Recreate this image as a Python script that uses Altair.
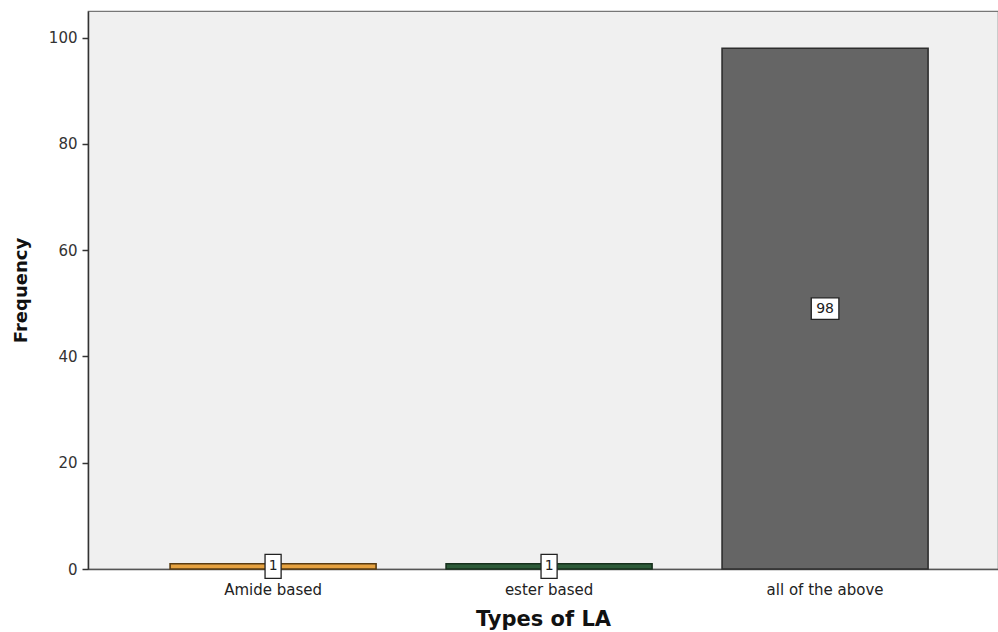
import altair as alt
import pandas as pd

# Frequency of each type of local anaesthetic
categories = ["Amide based", "ester based", "all of the above"]
counts = [1, 1, 98]
fills = ["#E6A240", "#2D5B39", "#656565"]
strokes = ["#5A3C12", "#17301D", "#2E2E2E"]

FONT = "DejaVu Sans"

df = pd.DataFrame({"type": categories, "count": counts})

x_enc = alt.X(
    "type:N",
    sort=categories,
    scale=alt.Scale(paddingInner=0.2536, paddingOuter=0.2754, align=0.54),
    axis=alt.Axis(
        title="Types of LA",
        labelAngle=0,
        ticks=False,
        domainColor="#555555",
        domainWidth=1.5,
        labelFont=FONT,
        labelFontSize=15,
        labelColor="#222222",
        labelPadding=13,
        titleFont=FONT,
        titleFontSize=21,
        titleFontWeight="bold",
        titleColor="#111111",
        titlePadding=11,
    ),
)

y_scale = alt.Scale(domain=[0, 105], nice=False, zero=True)

bars = alt.Chart(df).mark_bar(strokeWidth=1.6).encode(
    x=x_enc,
    y=alt.Y(
        "count:Q",
        scale=y_scale,
        axis=alt.Axis(
            title="Frequency",
            values=[0, 20, 40, 60, 80, 100],
            grid=False,
            tickSize=6,
            tickColor="#333333",
            tickWidth=1.5,
            domainColor="#333333",
            domainWidth=1.5,
            labelFont=FONT,
            labelFontSize=15,
            labelColor="#333333",
            labelPadding=5,
            titleFont=FONT,
            titleFontSize=18,
            titleFontWeight="bold",
            titleColor="#111111",
            titlePadding=18,
        ),
    ),
    fill=alt.Fill("type:N", scale=alt.Scale(domain=categories, range=fills), legend=None),
    stroke=alt.Stroke("type:N", scale=alt.Scale(domain=categories, range=strokes), legend=None),
)

base = alt.Chart(df).transform_calculate(
    mid="datum.count / 2",
    digits="length(toString(datum.count))",
)

# white boxes behind the value labels, wider for two-digit values
boxes = base.mark_point(filled=True, fill="white", stroke="#222222", strokeWidth=1.3, opacity=1).encode(
    x=alt.X("type:N", sort=categories),
    y=alt.Y("mid:Q", scale=y_scale),
    shape=alt.Shape(
        "digits:O",
        scale=alt.Scale(
            domain=[1, 2],
            range=["M-0.67,-1L0.67,-1L0.67,1L-0.67,1Z", "M-1.15,-0.9L1.15,-0.9L1.15,0.9L-1.15,0.9Z"],
        ),
        legend=None,
    ),
    size=alt.value(576),
)

labels = base.mark_text(font=FONT, fontSize=14, color="#222222", baseline="middle").encode(
    x=alt.X("type:N", sort=categories),
    y=alt.Y("mid:Q", scale=y_scale),
    text="count:Q",
)

chart = (
    alt.layer(bars, boxes, labels)
    .properties(
        width=910,
        height=558,
        autosize=alt.AutoSizeParams(type="none"),
        padding={"left": 88, "top": 11, "right": 0, "bottom": 63},
        background="white",
    )
    .configure_view(fill="#F0F0F0", stroke="#777777", strokeWidth=1.2)
)

chart.save("out.html", embed_options={"renderer": "svg", "actions": False})
